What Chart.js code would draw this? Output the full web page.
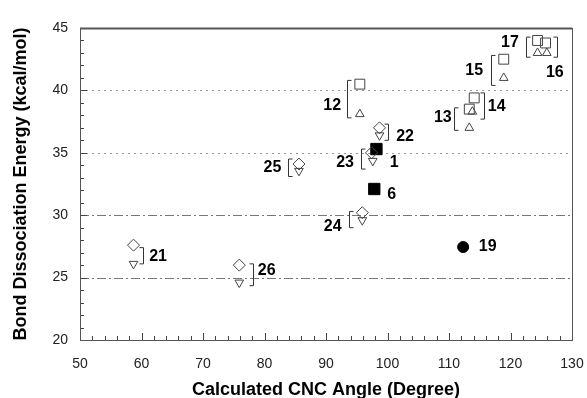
<!DOCTYPE html>
<html>
<head>
<meta charset="utf-8">
<script src="https://cdn.jsdelivr.net/npm/chart.js@4.4.1/dist/chart.umd.min.js"></script>
<style>
  html, body { margin: 0; padding: 0; background: #fff; }
  #wrap { width: 587px; height: 398px; }
</style>
</head>
<body>
<div id="wrap"><canvas id="bdeChart" width="587" height="398"></canvas></div>
<script>
// compounds 12..17 : open squares / open up-triangles
var sqX = [95.5, 113.3, 114.1, 118.9, 125.7, 124.4];
var sqY = [40.5, 38.5, 39.4, 42.5, 43.8, 44.0];
var triUpX = [95.5, 113.3, 113.8, 118.9, 125.9, 124.4];
var triUpY = [38.1, 37.0, 38.3, 41.0, 43.0, 43.0];
// compounds 21..26 : open diamonds / open down-triangles
var diaX = [58.7, 98.7, 97.4, 95.9, 85.6, 75.9];
var diaY = [27.6, 37.0, 35.0, 30.2, 34.1, 26.0];
var triDnX = [58.7, 98.7, 97.6, 95.9, 85.6, 75.9];
var triDnY = [26.1, 36.4, 34.35, 29.6, 33.55, 24.6];
// compounds 1, 6 (filled squares) and 19 (filled circle)
var fillSqX = [98.2, 97.85];
var fillSqY = [35.3, 32.1];
var circX = [112.3];
var circY = [27.45];

var xTicks = [50, 60, 70, 80, 90, 100, 110, 120, 130];
var yTicks = [20, 25, 30, 35, 40, 45];

function pts(xs, ys) {
    return xs.map(function (x, i) { return { x: x, y: ys[i] }; });
}

// compound numbers, placed in data units
var labels = [
    { t: '17', x: 119.9, y: 43.8 }, { t: '16', x: 127.2, y: 41.45 },
    { t: '15', x: 114.1, y: 41.6 }, { t: '12', x: 91.0, y: 38.8 },
    { t: '13', x: 109.0, y: 37.85 }, { t: '14', x: 117.75, y: 38.7 },
    { t: '22', x: 102.85, y: 36.3 }, { t: '23', x: 93.1, y: 34.2 },
    { t: '1', x: 101.1, y: 34.2 }, { t: '6', x: 100.7, y: 31.67 },
    { t: '24', x: 91.1, y: 29.1 }, { t: '19', x: 116.3, y: 27.5 },
    { t: '25', x: 81.3, y: 33.8 }, { t: '21', x: 62.7, y: 26.7 },
    { t: '26', x: 80.35, y: 25.6 }
];
// brackets grouping pairs of markers
var brackets = [
    { s: '[', x: 122.5, y1: 44.27, y2: 42.66 }, { s: ']', x: 127.5, y1: 44.27, y2: 42.66 },
    { s: '[', x: 116.8, y1: 42.8, y2: 40.4 }, { s: '[', x: 93.4, y1: 40.8, y2: 37.8 },
    { s: '[', x: 110.8, y1: 38.6, y2: 36.8 }, { s: ']', x: 115.7, y1: 39.8, y2: 37.7 },
    { s: ']', x: 100.0, y1: 37.3, y2: 36.0 }, { s: '[', x: 95.7, y1: 35.3, y2: 33.7 },
    { s: '[', x: 93.7, y1: 30.3, y2: 29.0 }, { s: '[', x: 83.9, y1: 34.5, y2: 33.1 },
    { s: ']', x: 60.3, y1: 27.4, y2: 26.1 }, { s: ']', x: 78.1, y1: 26.1, y2: 24.35 }
];

var frame = {
    id: 'frame',
    beforeDatasetsDraw: function (chart) {
        var c = chart.ctx;
        var xs = chart.scales.x, ys = chart.scales.y;
        // plot box taken from the scales themselves
        var L = Math.round(xs.getPixelForValue(50)), R = Math.round(xs.getPixelForValue(130));
        var T = Math.round(ys.getPixelForValue(45)), B = Math.round(ys.getPixelForValue(20));
        c.save();
        // horizontal reference lines
        [25, 30, 35, 40].forEach(function (v) {
            var y = Math.round(ys.getPixelForValue(v)) + 0.5;
            c.beginPath();
            if (v <= 30) { c.setLineDash([9, 3, 2, 3]); c.strokeStyle = '#777'; }
            else { c.setLineDash([2, 4]); c.strokeStyle = '#999'; }
            c.lineWidth = 1;
            c.moveTo(L, y); c.lineTo(R, y); c.stroke();
        });
        c.setLineDash([]);
        // minor / major ticks pointing inward
        c.strokeStyle = '#444';
        c.lineWidth = 1;
        c.beginPath();
        for (var v = 50; v <= 130; v += 2) {
            var px = Math.round(xs.getPixelForValue(v)) + 0.5;
            var len = (v % 10 === 0) ? 7 : 4;
            c.moveTo(px, B); c.lineTo(px, B - len);
        }
        for (var w = 20; w <= 45; w += 1) {
            var py = Math.round(ys.getPixelForValue(w)) + 0.5;
            var l2 = (w % 5 === 0) ? 7 : 4;
            c.moveTo(L, py); c.lineTo(L + l2, py);
        }
        c.stroke();
        // box
        c.strokeStyle = '#555';
        c.lineWidth = 1;
        c.strokeRect(L + 0.5, T + 0.5, R - L, B - T);
        c.lineWidth = 2;
        c.beginPath(); c.moveTo(L, T + 0.5); c.lineTo(R, T + 0.5); c.stroke();
        c.restore();
    },
    afterDatasetsDraw: function (chart) {
        var c = chart.ctx;
        var xs = chart.scales.x, ys = chart.scales.y;
        c.save();
        c.strokeStyle = '#333';
        c.lineWidth = 1;
        brackets.forEach(function (b) {
            var x = Math.round(xs.getPixelForValue(b.x)) + 0.5;
            var y1 = ys.getPixelForValue(b.y1), y2 = ys.getPixelForValue(b.y2);
            var d = b.s === '[' ? 4 : -4;
            c.beginPath();
            c.moveTo(x + d, y1); c.lineTo(x, y1); c.lineTo(x, y2); c.lineTo(x + d, y2);
            c.stroke();
        });
        c.fillStyle = '#000';
        c.font = 'bold 16px "Liberation Sans", Arial, sans-serif';
        c.textAlign = 'center';
        c.textBaseline = 'middle';
        labels.forEach(function (l) {
            c.fillText(l.t, xs.getPixelForValue(l.x), ys.getPixelForValue(l.y));
        });
        c.restore();
    }
};

var ctx = document.getElementById('bdeChart').getContext('2d');
var bdeChart = new Chart(ctx, {
    type: 'scatter',
    data: {
        datasets: [{
            label: 'square',
            data: pts(sqX, sqY),
            pointStyle: 'rect',
            pointRadius: 7,
            borderColor: '#444',
            backgroundColor: 'rgba(0,0,0,0)',
            borderWidth: 1
        }, {
            label: 'triangle up',
            data: pts(triUpX, triUpY),
            pointStyle: 'triangle',
            pointRadius: 5,
            borderColor: '#444',
            backgroundColor: 'rgba(0,0,0,0)',
            borderWidth: 1
        }, {
            label: 'diamond',
            data: pts(diaX, diaY),
            pointStyle: 'rectRot',
            pointRadius: 6,
            borderColor: '#444',
            backgroundColor: 'rgba(0,0,0,0)',
            borderWidth: 1
        }, {
            label: 'triangle down',
            data: pts(triDnX, triDnY),
            pointStyle: 'triangle',
            rotation: 180,
            pointRadius: 5,
            borderColor: '#444',
            backgroundColor: 'rgba(0,0,0,0)',
            borderWidth: 1
        }, {
            label: 'filled square',
            data: pts(fillSqX, fillSqY),
            pointStyle: 'rect',
            pointRadius: 8,
            borderColor: '#000',
            backgroundColor: '#000',
            borderWidth: 1
        }, {
            label: 'filled circle',
            data: pts(circX, circY),
            pointStyle: 'circle',
            pointRadius: 5.5,
            borderColor: '#000',
            backgroundColor: '#000',
            borderWidth: 1
        }]
    },
    options: {
        responsive: false,
        animation: false,
        clip: false,
        layout: {
            padding: { top: 28, right: 15, left: 0, bottom: 0 }
        },
        plugins: {
            legend: { display: false },
            tooltip: { enabled: false }
        },
        scales: {
            x: {
                type: 'linear',
                min: 50,
                max: 130,
                afterFit: function (s) { s.height = 58; s.paddingLeft = 0; s.paddingRight = 0; },
                afterBuildTicks: function (s) { s.ticks = xTicks.map(function (v) { return { value: v }; }); },
                grid: { display: false, drawTicks: false },
                border: { display: false },
                ticks: {
                    padding: 16,
                    color: '#222',
                    font: { family: '"Liberation Sans", Arial, sans-serif', size: 14 }
                },
                title: {
                    display: true,
                    text: 'Calculated CNC Angle (Degree)',
                    color: '#000',
                    padding: { top: 0, bottom: -1 },
                    font: { family: '"Liberation Sans", Arial, sans-serif', size: 18, weight: 'bold', lineHeight: 1 }
                }
            },
            y: {
                type: 'linear',
                min: 20,
                max: 45,
                afterFit: function (s) { s.width = 80; s.paddingTop = 0; s.paddingBottom = 0; },
                afterBuildTicks: function (s) { s.ticks = yTicks.map(function (v) { return { value: v }; }); },
                grid: { display: false, drawTicks: false },
                border: { display: false },
                ticks: {
                    padding: 12,
                    color: '#222',
                    font: { family: '"Liberation Sans", Arial, sans-serif', size: 14 }
                },
                title: {
                    display: true,
                    text: 'Bond Dissociation Energy (kcal/mol)',
                    color: '#000',
                    padding: { top: 12, bottom: 0 },
                    font: { family: '"Liberation Sans", Arial, sans-serif', size: 18, weight: 'bold', lineHeight: 1 }
                }
            }
        }
    },
    plugins: [frame]
});
</script>
</body>
</html>
